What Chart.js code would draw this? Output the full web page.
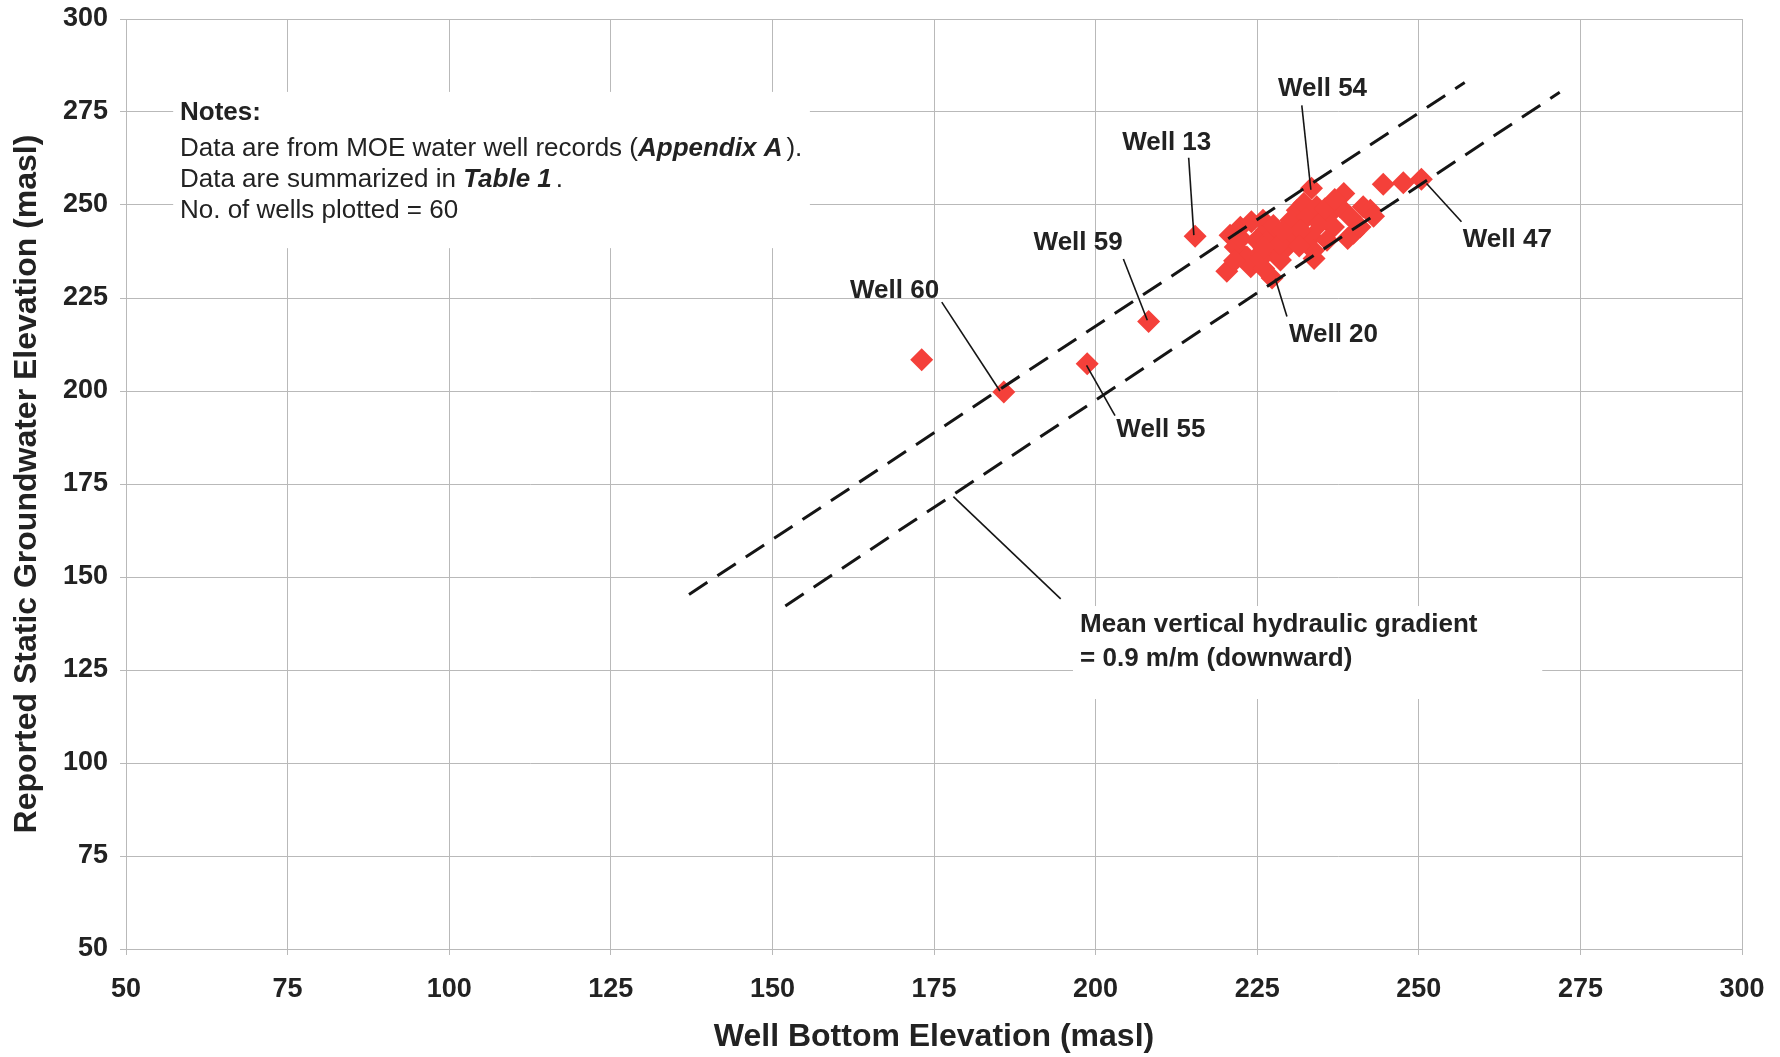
<!DOCTYPE html>
<html>
<head>
<meta charset="utf-8">
<script src="https://cdn.jsdelivr.net/npm/chart.js@4.4.0/dist/chart.umd.min.js"></script>
<style>
  html, body { margin: 0; padding: 0; background: #fff; }
  .chart-container { width: 1780px; height: 1057px; }
</style>
</head>
<body>
<div class="chart-container"><canvas id="chart"></canvas></div>
<script>
// well bottom elevation (masl) vs reported static groundwater elevation (masl)
const wellBottom = [
  173.1, 185.8, 198.7, 208.2, 215.4, 250.4, 247.6, 244.5, 233.4, 227.3,
  220.3, 220.8, 222.4, 221.6, 224.1, 225.9, 226.4, 224.9, 228.0, 229.6,
  227.5, 225.5, 223.4, 224.0, 226.0, 228.6, 230.7, 231.2, 230.2, 232.2,
  232.7, 234.2, 234.7, 233.4, 233.7, 233.8, 236.3, 236.8, 238.4, 237.8,
  239.4, 239.9, 240.9, 241.4, 242.5, 239.0, 235.8, 231.7, 226.5, 227.5,
  228.5, 225.5, 222.5, 229.0, 226.0, 231.5, 235.5, 237.0, 243.0, 221.5
];
const staticLevel = [
  208.4, 199.7, 207.3, 218.7, 241.6, 256.9, 256.0, 255.6, 254.5, 230.4,
  232.2, 241.9, 244.0, 238.7, 245.5, 245.9, 243.2, 240.5, 241.4, 238.7,
  237.8, 237.0, 236.0, 233.4, 232.9, 235.2, 241.4, 248.6, 245.9, 250.4,
  246.8, 249.5, 245.0, 241.4, 237.8, 235.6, 247.7, 244.1, 253.1, 249.5,
  246.8, 242.4, 244.1, 249.5, 248.6, 241.0, 240.5, 243.2, 240.0, 244.5,
  239.5, 235.5, 241.0, 243.0, 238.5, 239.0, 249.0, 251.5, 247.0, 235.0
];

// dashed envelope lines
const upperLineX = [137.1, 257.1];
const upperLineY = [145.3, 282.9];
const lowerLineX = [152.0, 271.8];
const lowerLineY = [142.2, 280.3];

// labelled wells
const wellLabels = ['Well 54', 'Well 13', 'Well 59', 'Well 60', 'Well 55', 'Well 20', 'Well 47'];
const labelX = [235.1, 211.0, 197.3, 168.9, 210.1, 236.8, 263.7];
const labelY = [281.3, 266.7, 239.8, 226.9, 189.6, 215.0, 240.7];
const leaderFromX = [231.9, 214.4, 204.3, 176.2, 198.6, 227.8, 251.2];
const leaderFromY = [276.8, 262.7, 235.5, 223.9, 206.9, 230.2, 255.8];
const leaderToX = [233.3, 215.2, 208.0, 185.2, 203.0, 229.6, 256.6];
const leaderToY = [254.1, 241.9, 219.0, 200.0, 193.4, 220.0, 245.5];

// gradient note leader
const gradientLeaderX = [178.0, 194.6];
const gradientLeaderY = [171.6, 144.1];

const axisTicks = [50, 75, 100, 125, 150, 175, 200, 225, 250, 275, 300];

const FONT = '"Liberation Sans", Arial, Helvetica, sans-serif';
const TEXT = '#222';
const GRID = '#b9b9b9';

const toPoints = (xs, ys) => xs.map((x, i) => ({ x, y: ys[i] }));

const lineDataset = (data, width, dash) => ({
  type: 'line',
  data,
  borderColor: '#151515',
  borderWidth: width,
  borderDash: dash,
  pointRadius: 0,
  fill: false,
  order: 0,
});

const datasets = [
  lineDataset(toPoints(upperLineX, upperLineY), 3, [22, 12]),
  lineDataset(toPoints(lowerLineX, lowerLineY), 3, [22, 12]),
  lineDataset(toPoints(gradientLeaderX, gradientLeaderY), 1.6, []),
];
leaderFromX.forEach((x, i) => {
  datasets.push(lineDataset([{ x, y: leaderFromY[i] }, { x: leaderToX[i], y: leaderToY[i] }], 1.6, []));
});
datasets.push({
  type: 'scatter',
  data: toPoints(wellBottom, staticLevel),
  pointStyle: 'rectRot',
  pointRadius: 11.5,
  backgroundColor: '#f4403a',
  borderColor: '#f4403a',
  borderWidth: 0,
  order: 10,
});

// white note boxes sitting over the grid, plus all the text
const notesPlugin = {
  id: 'notes',
  beforeDatasetsDraw(chart) {
    const { ctx, scales: { x, y } } = chart;
    ctx.save();
    ctx.fillStyle = '#fff';
    const box = (x0, y0, x1, y1) => {
      const l = x.getPixelForValue(x0), t = y.getPixelForValue(y0);
      ctx.fillRect(l, t, x.getPixelForValue(x1) - l, y.getPixelForValue(y1) - t);
    };
    box(57.3, 280.4, 155.8, 238.4);
    box(196.5, 142.2, 269.1, 117.2);
    ctx.restore();
  },
  afterDatasetsDraw(chart) {
    const { ctx, scales: { x, y } } = chart;
    ctx.save();
    ctx.fillStyle = TEXT;
    ctx.textBaseline = 'middle';

    // well labels
    ctx.textAlign = 'center';
    ctx.font = 'bold 26px ' + FONT;
    wellLabels.forEach((t, i) => {
      ctx.fillText(t, x.getPixelForValue(labelX[i]), y.getPixelForValue(labelY[i]));
    });

    // runs of differently styled text on one line
    ctx.textAlign = 'left';
    const runs = (px, py, parts) => {
      parts.forEach(([text, font, gap]) => {
        ctx.font = font;
        ctx.fillText(text, px, py);
        px += ctx.measureText(text).width + (gap || 0);
      });
    };
    const reg = '26px ' + FONT;
    const bold = 'bold 26px ' + FONT;
    const bi = 'italic bold 26px ' + FONT;

    const nx = x.getPixelForValue(58.35);
    runs(nx, y.getPixelForValue(274.8), [['Notes:', bold]]);
    runs(nx, y.getPixelForValue(265.2), [['Data are from MOE water well records (', reg], ['Appendix A', bi, 4], [').', reg]]);
    runs(nx, y.getPixelForValue(256.9), [['Data are summarized in ', reg], ['Table 1', bi, 4], ['.', reg]]);
    runs(nx, y.getPixelForValue(248.5), [['No. of wells plotted = 60', reg]]);

    const gx = x.getPixelForValue(197.6);
    runs(gx, y.getPixelForValue(137.1), [['Mean vertical hydraulic gradient', bold]]);
    runs(gx, y.getPixelForValue(128.0), [['= 0.9 m/m (downward)', bold]]);
    ctx.restore();
  },
};

const tickFont = { family: FONT, size: 27, weight: 'bold' };
const titleFont = { family: FONT, size: 32, weight: 'bold' };

const axis = (extra) => Object.assign({
  type: 'linear',
  min: 50,
  max: 300,
  afterBuildTicks: (scale) => { scale.ticks = axisTicks.map(v => ({ value: v })); },
  grid: { color: GRID, lineWidth: 1, tickLength: 6, tickColor: GRID },
  border: { color: GRID, width: 1 },
}, extra);

new Chart(document.getElementById('chart'), {
  data: { datasets },
  plugins: [notesPlugin],
  options: {
    responsive: true,
    maintainAspectRatio: false,
    animation: false,
    layout: { padding: { left: 0, top: 19, right: 38, bottom: 0 } },
    plugins: { legend: { display: false }, tooltip: { enabled: false } },
    scales: {
      x: axis({
        position: 'bottom',
        afterFit: (scale) => {
          scale.height = 108;
          scale.paddingLeft = 0;
          scale.paddingRight = 0;
        },
        ticks: { color: TEXT, padding: 18, font: tickFont },
        title: {
          display: true, text: 'Well Bottom Elevation (masl)', color: TEXT,
          padding: { top: 0, bottom: 1 }, font: titleFont,
        },
      }),
      y: axis({
        position: 'left',
        afterFit: (scale) => {
          scale.width = 126;
          scale.paddingTop = 0;
          scale.paddingBottom = 0;
        },
        ticks: { color: TEXT, padding: 12, font: tickFont },
        title: {
          display: true, text: 'Reported Static Groundwater Elevation (masl)', color: TEXT,
          padding: { top: 8, bottom: 0 }, font: titleFont,
        },
      }),
    },
  },
});
</script>
</body>
</html>
